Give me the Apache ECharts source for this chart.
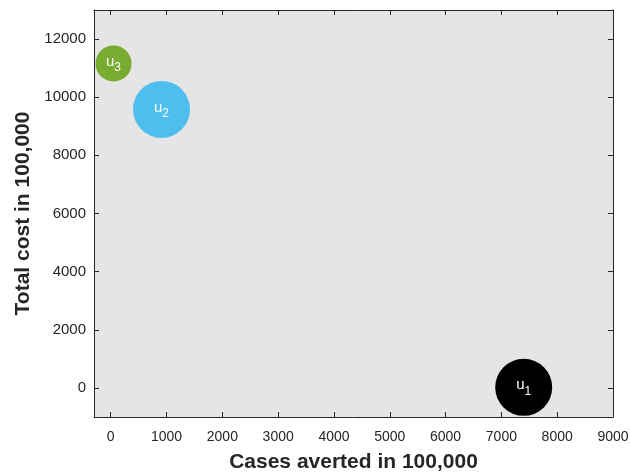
<!DOCTYPE html>
<html>
<head>
<meta charset="utf-8">
<script src="https://cdn.jsdelivr.net/npm/echarts@6/dist/echarts.min.js"></script>
<style>
  html, body { margin: 0; padding: 0; background: #ffffff; }
  #chart { width: 630px; height: 476px; }
</style>
</head>
<body>
<div id="chart"></div>
<script>
// Strategies: cases averted vs total cost (both in 100,000)
const names = ['1', '2', '3'];
const casesAverted = [7400, 910, 50];
const totalCost = [20, 9580, 11160];
const bubbleColors = ['#000000', '#4dbeee', '#77ac30'];
const bubbleSizes = [57, 57, 36];
const xTicks = [0, 1000, 2000, 3000, 4000, 5000, 6000, 7000, 8000, 9000];
const yTicks = [0, 2000, 4000, 6000, 8000, 10000, 12000];

const chart = echarts.init(document.getElementById('chart'), null, { renderer: 'canvas' });

const FONT = '"Liberation Sans", Arial, Helvetica, sans-serif';
const lineStyle = { color: '#262626', width: 1 };
const plain = v => String(v);

function xAxisDef(pos, withLabels) {
  return {
    type: 'value', position: pos, min: -300, max: 9000,
    axisLine: { show: true, onZero: false, lineStyle },
    axisTick: { show: true, inside: true, length: 5, lineStyle, customValues: xTicks },
    axisLabel: withLabels ? { show: true, customValues: xTicks, formatter: plain, color: '#262626', fontSize: 14, fontFamily: FONT, margin: 13 } : { show: false },
    splitLine: { show: false },
    name: withLabels ? 'Cases averted in 100,000' : '',
    nameLocation: 'middle', nameGap: 35,
    nameTextStyle: { fontSize: 21, fontWeight: 'bold', color: '#262626', fontFamily: FONT }
  };
}
function yAxisDef(pos, withLabels) {
  return {
    type: 'value', position: pos, min: -1000, max: 13000,
    axisLine: { show: true, onZero: false, lineStyle },
    axisTick: { show: true, inside: true, length: 5, lineStyle, customValues: yTicks },
    axisLabel: withLabels ? { show: true, customValues: yTicks, formatter: plain, color: '#262626', fontSize: 15, fontFamily: FONT, margin: 8 } : { show: false },
    splitLine: { show: false },
    name: withLabels ? 'Total cost in 100,000' : '',
    nameLocation: 'middle', nameGap: 58,
    nameTextStyle: { fontSize: 21, fontWeight: 'bold', color: '#262626', fontFamily: FONT }
  };
}

const data = names.map((n, i) => ({
  value: [casesAverted[i], totalCost[i]],
  symbolSize: bubbleSizes[i],
  itemStyle: { color: bubbleColors[i], opacity: 1 },
  label: { formatter: '{u|u}{s|' + n + '}' }
}));

chart.setOption({
  animation: false,
  backgroundColor: '#ffffff',
  grid: {
    left: 94, right: 17, top: 10, bottom: 59,
    containLabel: false, outerBoundsMode: 'none',
    show: true, backgroundColor: '#e5e5e5', borderWidth: 0
  },
  xAxis: [xAxisDef('bottom', true), xAxisDef('top', false)],
  yAxis: [yAxisDef('left', true), yAxisDef('right', false)],
  series: [{
    type: 'scatter',
    symbol: 'circle',
    data,
    emphasis: { disabled: true },
    label: {
      show: true, position: 'inside',
      rich: {
        u: { color: '#ffffff', fontSize: 15, fontFamily: FONT, padding: [0, 0, 4, 0] },
        s: { color: '#ffffff', fontSize: 12, fontFamily: FONT, padding: [9, 0, 0, 0] }
      }
    }
  }]
});
</script>
</body>
</html>
